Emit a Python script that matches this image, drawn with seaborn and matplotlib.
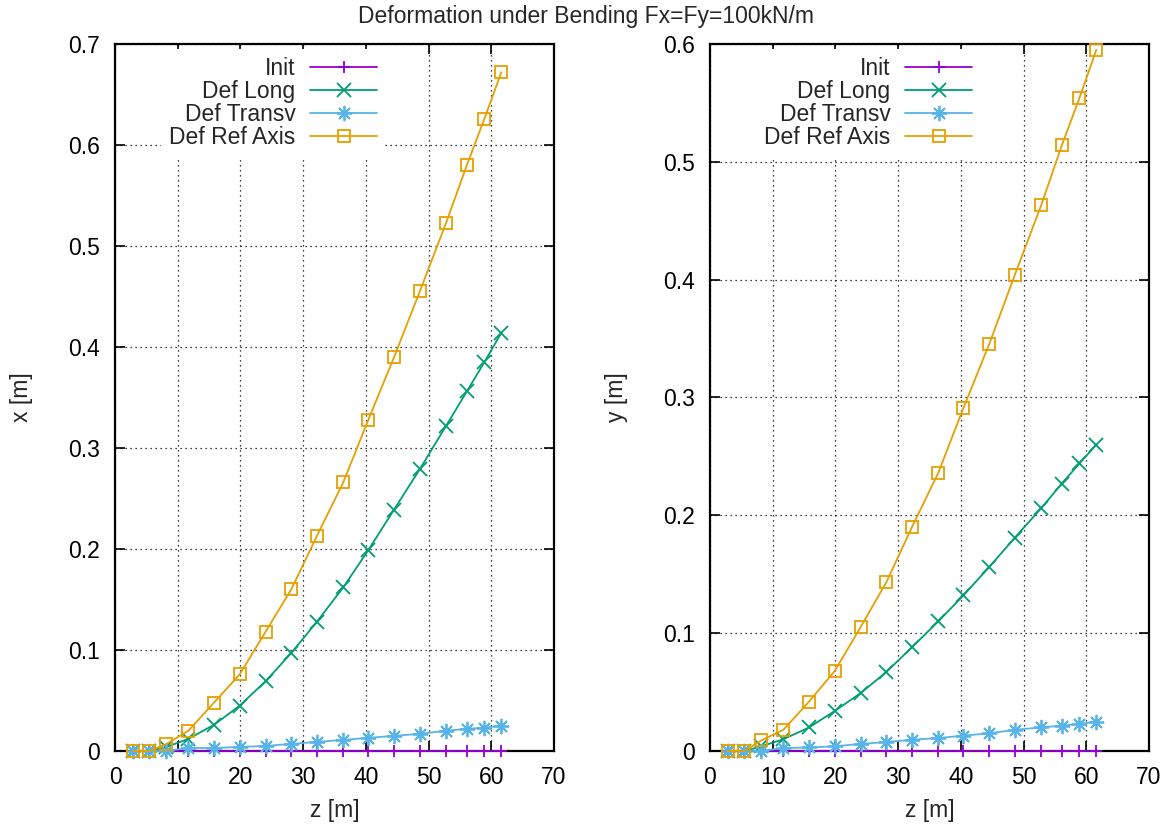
import matplotlib
matplotlib.use("Agg")
import matplotlib.pyplot as plt
import seaborn as sns
import pandas as pd
from matplotlib.ticker import FuncFormatter, MultipleLocator

# ---------------- data ----------------
z = [2.8, 5.5, 8.2, 11.7, 15.8, 19.9, 24.0, 28.1, 32.2, 36.4, 40.4, 44.5,
     48.6, 52.8, 56.1, 58.9, 61.6]

series_names = ["Init", "Def Long", "Def Transv", "Def Ref Axis"]

# left panel: x [m]
x_init = [0.0] * 17
x_long = [0.0, 0.0, 0.004, 0.012, 0.026, 0.045, 0.069, 0.097, 0.128, 0.162,
          0.199, 0.239, 0.279, 0.322, 0.356, 0.385, 0.414]
x_transv = [0.0, 0.0, 0.0, 0.003, 0.003, 0.004, 0.005, 0.007, 0.009, 0.011,
            0.013, 0.015, 0.017, 0.020, 0.022, 0.023, 0.025]
x_ref = [0.0, 0.0, 0.007, 0.020, 0.048, 0.076, 0.118, 0.160, 0.213, 0.266,
         0.328, 0.390, 0.455, 0.523, 0.580, 0.626, 0.672]

# right panel: y [m]
y_init = [0.0] * 17
y_long = [0.0, 0.0, 0.004, 0.010, 0.020, 0.034, 0.049, 0.067, 0.088, 0.110,
          0.132, 0.156, 0.181, 0.206, 0.227, 0.244, 0.260]
y_transv = [0.0, 0.0, 0.0, 0.0025, 0.003, 0.004, 0.006, 0.0076, 0.0096, 0.011,
            0.013, 0.015, 0.018, 0.020, 0.0215, 0.023, 0.025]
y_ref = [0.0, 0.0, 0.009, 0.018, 0.042, 0.068, 0.105, 0.143, 0.190, 0.236,
         0.291, 0.345, 0.404, 0.463, 0.514, 0.554, 0.595]

title = "Deformation under Bending Fx=Fy=100kN/m"
xlabel = "z [m]"
ylabels = ["x [m]", "y [m]"]

# ---------------- style ----------------
sns.set_style("ticks")
plt.rcParams["font.family"] = ["Liberation Sans", "DejaVu Sans"]
FS = 16.5

colors = ["#9400d3", "#009e73", "#56b4e9", "#e69f00"]
markers = ["+", "x", (8, 2, 0), "s"]
msizes = [9, 10.5, 11, 9]

fig = plt.figure(figsize=(11.72, 8.25), dpi=100)
W, H = 1172, 825
ax1 = fig.add_axes([115 / W, (H - 751) / H, 439 / W, 707 / H])
ax2 = fig.add_axes([710 / W, (H - 751) / H, 439 / W, 707 / H])

panels = [
    (ax1, [x_init, x_long, x_transv, x_ref], 0.7, ylabels[0]),
    (ax2, [y_init, y_long, y_transv, y_ref], 0.6, ylabels[1]),
]

for ax, vals, ymax, ylab in panels:
    for name, v, c, m, ms in zip(series_names, vals, colors, markers, msizes):
        df = pd.DataFrame({"z": z, "v": v})
        sns.lineplot(data=df, x="z", y="v", ax=ax, color=c, marker=m,
                     markersize=ms, markeredgecolor=c, markeredgewidth=1.3,
                     markerfacecolor="none" if m == "s" else c,
                     linewidth=1.3, label=name, sort=False, estimator=None,
                     clip_on=False, zorder=3)
    ax.set_xlim(0, 70)
    ax.set_ylim(0, ymax)
    ax.xaxis.set_major_locator(MultipleLocator(10))
    ax.yaxis.set_major_locator(MultipleLocator(0.1))
    ax.xaxis.set_major_formatter(FuncFormatter(lambda val, p: "%g" % round(val, 3)))
    ax.yaxis.set_major_formatter(FuncFormatter(lambda val, p: "%g" % round(val, 3)))
    ax.tick_params(direction="in", length=7, width=1.2, top=True, right=True,
                   labelsize=FS, pad=11, colors="black")
    for s in ax.spines.values():
        s.set_linewidth(1.6)
        s.set_color("black")
    ax.grid(True, color="black", linestyle=(0, (1, 3)), linewidth=0.9)
    ax.set_axisbelow(True)
    ax.set_xlabel(xlabel, fontsize=FS, labelpad=7)
    ax.set_ylabel(ylab, fontsize=FS, labelpad=25)
    leg = ax.legend(loc="upper right", bbox_to_anchor=(0.625, 1.0),
                    markerfirst=False, frameon=True, fontsize=FS,
                    handlelength=2.9, handletextpad=0.65, labelspacing=0.0,
                    borderpad=0.35, borderaxespad=0.2, fancybox=False)
    leg.get_frame().set_edgecolor("none")
    leg.get_frame().set_facecolor("white")
    leg.get_frame().set_alpha(1.0)

fig.text(0.5, 1 - 16 / H, title, ha="center", va="center", fontsize=FS)

fig.savefig("out.png", dpi=100)
